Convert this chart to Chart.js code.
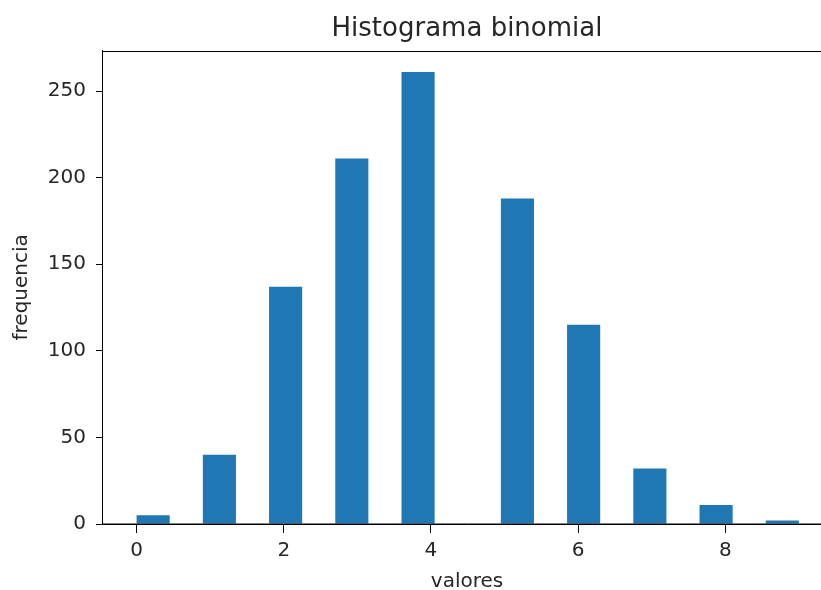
<!DOCTYPE html>
<html>
<head>
<meta charset="utf-8">
<script src="https://cdn.jsdelivr.net/npm/chart.js@4/dist/chart.umd.min.js"></script>
<style>
  html, body { margin: 0; padding: 0; overflow: hidden; background: #ffffff; }
  #wrap { width: 821px; height: 590px; overflow: hidden; }
  canvas { display: block; }
</style>
</head>
<body>
<div id="wrap"><canvas id="c" width="840" height="590"></canvas></div>
<script>
// Histogram: 20 bins between 0 and 9 (matplotlib default binning of integer data)
const binLow = 0;
const binHigh = 9;
const binCount = 20;
const binCounts = [5, 0, 40, 0, 137, 0, 211, 0, 261, 0, 0, 188, 0, 115, 0, 32, 0, 11, 0, 2];
const xTickValues = [0, 2, 4, 6, 8];
const yTickValues = [0, 50, 100, 150, 200, 250];
const chartTitle = 'Histograma binomial';
const xLabel = 'valores';
const yLabel = 'frequencia';

const binWidth = (binHigh - binLow) / binCount;
const histData = binCounts.map((v, i) => ({ x: binLow + binWidth * (i + 0.5), y: v }));

const FONT = "'DejaVu Sans', sans-serif";
const TXT = '#262626';

// spines drawn above the bars, like matplotlib
const frame = {
  id: 'frame',
  afterDatasetsDraw(chart) {
    const { ctx, chartArea: a } = chart;
    const t = Math.round(a.top) + 0.5;
    const b = chart.scales.y.getPixelForValue(0);
    const l = chart.scales.x.left;
    ctx.save();
    ctx.strokeStyle = '#000';
    ctx.lineWidth = 1;
    ctx.beginPath();
    ctx.moveTo(l, t);
    ctx.lineTo(a.right, t);
    ctx.moveTo(Math.round(a.right) + 0.5, a.top);
    ctx.lineTo(Math.round(a.right) + 0.5, a.bottom);
    ctx.moveTo(l, b);
    ctx.lineTo(a.right, b);
    ctx.stroke();
    ctx.restore();
  }
};

new Chart(document.getElementById('c'), {
  type: 'bar',
  data: {
    datasets: [{
      data: histData,
      backgroundColor: '#1f77b4',
      borderWidth: 0,
      inflateAmount: 0,
      barPercentage: 1,
      categoryPercentage: 1
    }]
  },
  options: {
    responsive: false,
    animation: false,
    layout: { padding: { left: 0, right: 8, top: 0, bottom: 0 } },
    plugins: {
      legend: { display: false },
      tooltip: { enabled: false },
      title: {
        display: true,
        fullSize: false,
        text: chartTitle,
        color: TXT,
        font: { family: FONT, size: 26, weight: 'normal' },
        padding: { top: 14, bottom: 5.5 }
      }
    },
    scales: {
      x: {
        type: 'linear',
        min: -0.47,
        max: 9.45,
        offset: false,
        afterBuildTicks: s => { s.ticks = xTickValues.map(v => ({ value: v })); },
        afterFit: s => { s.height = 66; },
        ticks: { color: TXT, padding: 6, font: { family: FONT, size: 20 }, maxRotation: 0, autoSkip: false },
        grid: { display: true, drawOnChartArea: false, drawTicks: true, tickLength: 9, tickColor: '#000', offset: false },
        border: { display: true, color: '#000', width: 1 },
        title: { display: true, text: xLabel, color: TXT, font: { family: FONT, size: 20 }, padding: { top: 0, bottom: -4 } }
      },
      y: {
        type: 'linear',
        min: 0,
        max: 273.3,
        afterBuildTicks: s => { s.ticks = yTickValues.map(v => ({ value: v })); },
        afterFit: s => { s.width = 102; },
        ticks: { color: TXT, padding: 10, font: { family: FONT, size: 20 } },
        grid: { display: true, drawOnChartArea: false, drawTicks: true, tickLength: 6, tickColor: '#000' },
        border: { display: true, color: '#000', width: 1 },
        title: { display: true, text: yLabel, color: TXT, font: { family: FONT, size: 20 }, padding: { top: 10, bottom: 0 } }
      }
    }
  },
  plugins: [frame]
});
</script>
</body>
</html>
